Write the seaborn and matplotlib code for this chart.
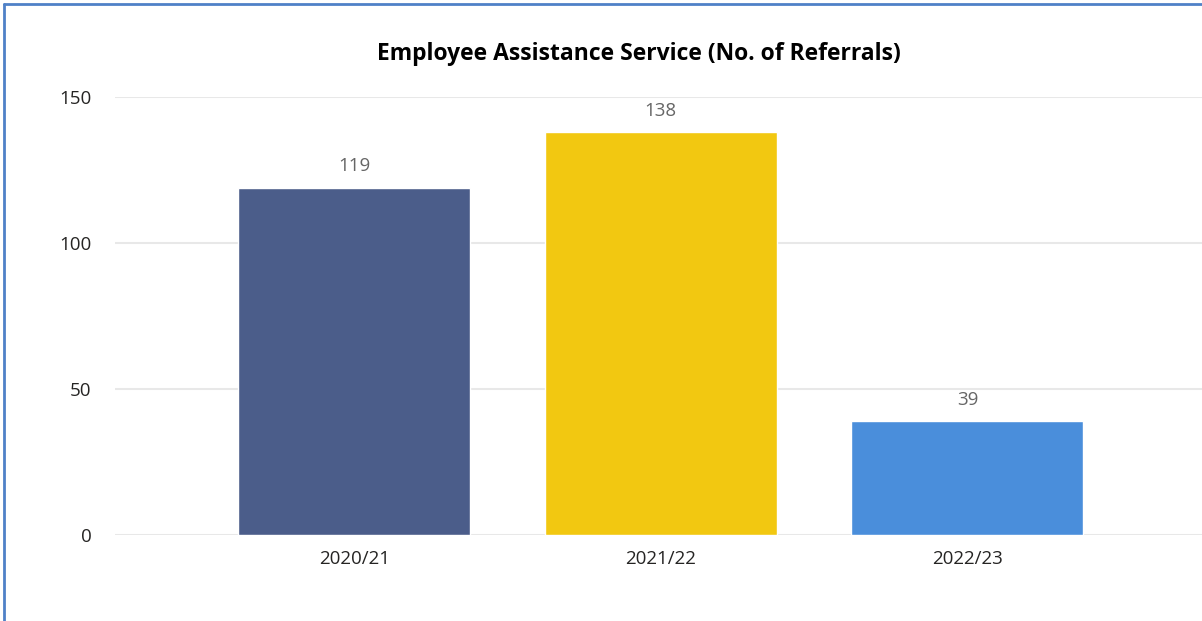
import matplotlib
matplotlib.use("Agg")
import matplotlib.pyplot as plt
import seaborn as sns
import pandas as pd

years = ["2020/21", "2021/22", "2022/23"]
referrals = [119, 138, 39]
bar_colors = ["#4B5D8A", "#F2C811", "#4A8EDB"]
y_ticks = [0, 50, 100, 150]

sns.set_theme(style="white")
plt.rcParams["font.family"] = ["Open Sans", "DejaVu Sans"]

W, H = 1202, 621
fig = plt.figure(figsize=(W / 100, H / 100), dpi=100)

# axes placed in pixel terms: left edge at x=115, runs off the right side
left, right = 115, 1202
bottom, top = 535, 97
ax = fig.add_axes([left / W, 1 - bottom / H, (right - left) / W, (bottom - top) / H])

df = pd.DataFrame({"year": years, "referrals": referrals})
sns.barplot(data=df, x="year", y="referrals", hue="year", palette=bar_colors,
            width=0.757, saturation=1, legend=False, ax=ax, zorder=3)

ax.set_xlim(-0.78, 2.765)
ax.set_ylim(0, 150)
ax.set_yticks(y_ticks)
ax.set_yticklabels([str(t) for t in y_ticks])
ax.grid(axis="y", color="#E8E8E8", linewidth=1.5, zorder=0)
ax.set_axisbelow(True)
for s in ax.spines.values():
    s.set_visible(False)
ax.set_xlabel("")
ax.set_ylabel("")
ax.tick_params(axis="both", length=0, labelsize=13.5, colors="#252423")
ax.tick_params(axis="y", pad=17)
ax.tick_params(axis="x", pad=11)

for container in ax.containers:
    ax.bar_label(container, labels=[str(int(v)) for v in container.datavalues],
                 padding=9, fontsize=13.5, color="#666666")

fig.text(639 / W, 1 - 54 / H, "Employee Assistance Service (No. of Referrals)",
         ha="center", va="center", fontsize=16.5, fontweight="bold", color="#000000")

# frame lines along the left and top edges
fig.add_artist(plt.Line2D([3.5 / W, 3.5 / W], [0, 1 - 3.5 / H], color="#4F81C7", linewidth=2))
fig.add_artist(plt.Line2D([3.5 / W, 1], [1 - 3.5 / H, 1 - 3.5 / H], color="#4F81C7", linewidth=2))

fig.savefig("out.png", dpi=100)
